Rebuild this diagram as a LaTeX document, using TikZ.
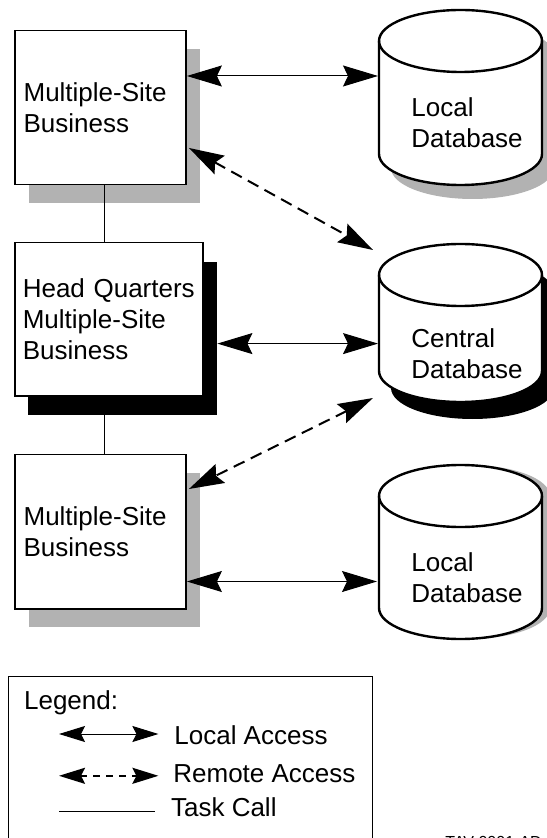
\documentclass[tikz,border=0pt]{standalone}
\usepackage{fontspec}
\setmainfont{Liberation Sans}
\usepackage{tikz}
\usetikzlibrary{arrows.meta,shadows,calc}

\newcommand{\diagfont}{\fontsize{13}{15.7}\selectfont}
% cylinder: centre x, top y, bottom y, shadow colour, shadow shift
\newcommand{\dbcyl}[5]{%
  \fill[#4, shift={#5}] (#1-81.5,#2) -- (#1-81.5,#3)
    arc[start angle=180, end angle=360, x radius=40.75pt, y radius=15.5pt]
    -- (#1+81.5,#2)
    arc[start angle=0, end angle=180, x radius=40.75pt, y radius=15.5pt] -- cycle;
  \draw[dbline, fill=white] (#1-81.5,#2) -- (#1-81.5,#3)
    arc[start angle=180, end angle=360, x radius=40.75pt, y radius=15.5pt]
    -- (#1+81.5,#2)
    arc[start angle=0, end angle=180, x radius=40.75pt, y radius=15.5pt] -- cycle;
  \draw[dbline] (#1-81.5,#2)
    arc[start angle=180, end angle=360, x radius=40.75pt, y radius=15.5pt];
}

\tikzset{
  site/.style={draw, line width=0.9pt, fill=white, align=left, inner xsep=4.5pt,
    text width=#1, font=\diagfont},
  lbl/.style={inner sep=0pt, anchor=base west, align=left, font=\diagfont},
  dbline/.style={line width=1.2pt},
  local/.style={line width=0.5pt, {Stealth[length=17.5pt, width=10.5pt, inset=2.5pt]}-{Stealth[length=17.5pt, width=10.5pt, inset=2.5pt]}},
  remote/.style={line width=1pt, dash pattern=on 6pt off 3.5pt, {Stealth[length=17.5pt, width=10.5pt, inset=2.5pt]}-{Stealth[length=17.5pt, width=10.5pt, inset=2.5pt]}},
  legendlocal/.style={line width=0.5pt, {Stealth[length=13pt, width=8pt, inset=2pt]}-{Stealth[length=13pt, width=8pt, inset=2pt]}},
  legendremote/.style={line width=1pt, dash pattern=on 3.5pt off 3pt, {Stealth[length=13pt, width=8pt, inset=2pt]}-{Stealth[length=13pt, width=8pt, inset=2pt]}},
  task/.style={line width=0.5pt},
}

\begin{document}
\begin{tikzpicture}[x=0.5pt, y=0.5pt]
    \useasboundingbox[fill=white] (0,0) rectangle (546,-838);

    % sites
    \node[site=76.7pt, minimum height=77pt, drop shadow={shadow xshift=7pt, shadow yshift=-9pt, fill=gray!60, opacity=1}]
        (msb1) at (100.3,-107.55) {Multiple-Site\\Business};
    \node[site=86pt, inner xsep=4.1pt, minimum height=76.6pt, drop shadow={shadow xshift=6.75pt, shadow yshift=-9.5pt, fill=black, opacity=1}]
        (hq) at (108.8,-319.2) {Head Quarters\\Multiple-Site\\Business};
    \node[site=76.7pt, minimum height=77.3pt, drop shadow={shadow xshift=7pt, shadow yshift=-9.2pt, fill=gray!60, opacity=1}]
        (msb3) at (100.3,-531.7) {Multiple-Site\\Business};

    \draw[task] ([xshift=2.1pt]msb1.south) -- ([xshift=2.1pt]msb1.south |- hq.north);
    \draw[task] ([xshift=2.1pt]msb3.north) -- ([xshift=2.1pt]msb3.north |- hq.south);

    % databases
    \dbcyl{460.5}{-41}{-154}{gray!60}{(6pt,-7pt)}
    \dbcyl{460.5}{-275}{-371}{black}{(6pt,-8.5pt)}
    \dbcyl{460.5}{-496}{-608}{gray!60}{(4pt,0pt)}
    \node[lbl] (ldbA) at (411,-148) {Local\\Database};
    \node[lbl] (cdb) at (411,-378.4) {Central\\Database};
    \node[lbl] (ldbB) at (411,-602.4) {Local\\Database};

    \coordinate (ldbA-w) at (378,-76);
    \coordinate (cdb-nw) at (373,-250);
    \coordinate (cdb-w) at (378,-343.6);
    \coordinate (cdb-sw) at (373,-398);
    \coordinate (ldbB-w) at (377,-581.5);

    % access
    \draw[local] (msb1.east |- ldbA-w) -- (ldbA-w);
    \draw[remote] ([shift={(1pt,-20.2pt)}]msb1.east) -- (cdb-nw);
    \draw[local] ($(hq.east |- cdb-w)+(6.75pt,0)$) -- (cdb-w);
    \draw[remote] (cdb-sw) -- ([shift={(1pt,21.35pt)}]msb3.east);
    \draw[local] (msb3.east |- ldbB-w) -- (ldbB-w);

    % legend
    \draw[line width=0.6pt] (8.7,-870) |- (372.6,-676.6) -- (372.6,-870);
    \node[lbl] (legend) at (23.7,-709.6) {Legend:};
    \node[lbl] (la) at (174,-744.5) {Local Access};
    \node[lbl] (ra) at (173,-782.8) {Remote Access};
    \node[lbl] (tc) at (170.7,-816.7) {Task Call};
    \draw[legendlocal] (59,-734) -- (158.4,-734);
    \draw[legendremote] (59,-775.8) -- (158.4,-775.8);
    \draw[task] (59.3,-811.7) -- (155,-811.7);

    \node[inner sep=0pt, anchor=base west, font=\fontsize{8}{9.6}\selectfont] (figid) at (445,-847.5) {TAV 0001-AD};
\end{tikzpicture}
\end{document}
